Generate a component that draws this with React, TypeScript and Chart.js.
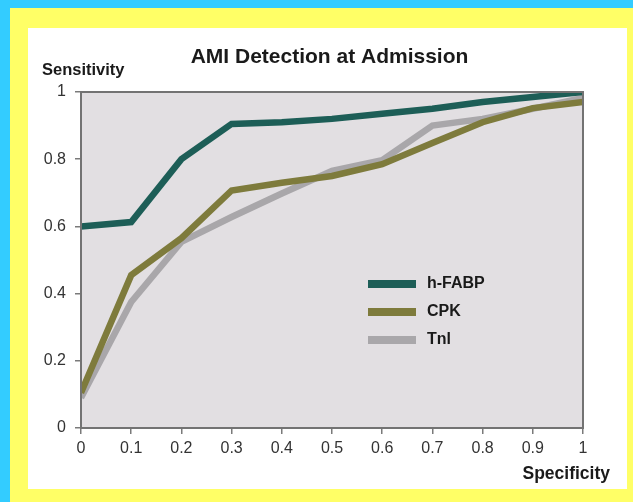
import React, { useEffect, useRef } from "react";
import { Chart, registerables } from "chart.js";

Chart.register(...registerables);

const specificity = [0, 0.1, 0.2, 0.3, 0.4, 0.5, 0.6, 0.7, 0.8, 0.9, 1];
const hFABP = [0.6, 0.613, 0.8, 0.905, 0.91, 0.92, 0.935, 0.95, 0.97, 0.985, 1.0];
const cpk = [0.105, 0.455, 0.565, 0.707, 0.73, 0.75, 0.785, 0.848, 0.91, 0.952, 0.97];
const tnl = [0.09, 0.375, 0.554, 0.628, 0.698, 0.765, 0.797, 0.9, 0.92, 0.95, 0.982];
const seriesNames = ["h-FABP", "CPK", "Tnl"];
const seriesColors = ["#1d5e57", "#7e7b3c", "#a9a7aa"];
const xTickLabels = ["0", "0.1", "0.2", "0.3", "0.4", "0.5", "0.6", "0.7", "0.8", "0.9", "1"];
const yTickLabels = ["0", "0.2", "0.4", "0.6", "0.8", "1"];
const titleText = "AMI Detection at Admission";
const yAxisTitle = "Sensitivity";
const xAxisTitle = "Specificity";

const FONT = "'Liberation Sans', Arial, sans-serif";

export default function App() {
  const ref = useRef<HTMLCanvasElement | null>(null);
  useEffect(() => {
    if (!ref.current) return;
    const toPts = (vals: number[]) => specificity.map((x, i) => ({ x, y: vals[i] }));
    const all = [hFABP, cpk, tnl];
    const decor = {
      id: "decor",
      beforeDraw(chart: any) {
        const { ctx, chartArea: a } = chart;
        ctx.save();
        ctx.fillStyle = "#e2dfe2";
        ctx.fillRect(a.left, a.top, a.right - a.left, a.bottom - a.top);
        ctx.restore();
      },
      afterDatasetsDraw(chart: any) {
        const { ctx, chartArea: a } = chart;
        ctx.save();
        ctx.strokeStyle = "#737373";
        ctx.lineWidth = 2;
        ctx.strokeRect(a.left, a.top, a.right - a.left, a.bottom - a.top);
        // title
        ctx.fillStyle = "#1a1a1a";
        ctx.textBaseline = "middle";
        ctx.textAlign = "center";
        ctx.font = `bold 21px ${FONT}`;
        ctx.fillText(titleText, chart.width / 2 + 2, 29);
        ctx.font = `bold 16.5px ${FONT}`;
        ctx.textAlign = "left";
        ctx.fillText(yAxisTitle, 14, 42);
        ctx.font = `bold 17.5px ${FONT}`;
        ctx.textAlign = "right";
        ctx.fillText(xAxisTitle, 582, 446);
        // legend
        const lx = 340, ly = 256;
        chart.data.datasets.forEach((ds: any, i: number) => {
          const y = ly + i * 28;
          ctx.fillStyle = ds.borderColor;
          ctx.fillRect(lx, y - 4, 48, 8);
          ctx.fillStyle = "#1a1a1a";
          ctx.textAlign = "left";
          ctx.font = `bold 16px ${FONT}`;
          ctx.fillText(ds.label, lx + 59, y);
        });
        ctx.restore();
      },
    };
    const chart = new Chart(ref.current, {
      type: "line",
      data: {
        datasets: seriesNames.map((name, i) => ({
          label: name,
          data: toPts(all[i]),
          borderColor: seriesColors[i],
          backgroundColor: seriesColors[i],
          borderWidth: 6.5,
          pointRadius: 0,
          tension: 0,
          fill: false,
        })),
      },
      options: {
        responsive: false,
        animation: false,
        layout: { padding: { left: 0, right: 44, top: 64, bottom: 0 } },
        plugins: { legend: { display: false }, title: { display: false }, tooltip: { enabled: false } },
        scales: {
          x: {
            type: "linear",
            min: 0,
            max: 1,
            afterFit(s: any) { s.height = 61; },
            afterBuildTicks(s: any) { s.ticks = specificity.map((v) => ({ value: v })); },
            ticks: {
              padding: 5,
              color: "#333",
              font: { family: FONT, size: 16 },
              maxRotation: 0,
              autoSkip: false,
              callback: (_v: any, i: number) => xTickLabels[i],
            },
            grid: { drawOnChartArea: false, drawTicks: true, tickLength: 6, color: "#7a7a7a", lineWidth: 1.5 },
            border: { display: false },
          },
          y: {
            type: "linear",
            min: 0,
            max: 1,
            afterFit(s: any) { s.width = 53; },
            afterBuildTicks(s: any) { s.ticks = yTickLabels.map((t) => ({ value: parseFloat(t) })); },
            ticks: {
              padding: 9,
              color: "#333",
              font: { family: FONT, size: 16 },
              autoSkip: false,
              callback: (_v: any, i: number) => yTickLabels[i],
            },
            grid: { drawOnChartArea: false, drawTicks: true, tickLength: 6, color: "#7a7a7a", lineWidth: 1.5 },
            border: { display: false },
          },
        },
      },
      plugins: [decor],
    } as any);
    return () => chart.destroy();
  }, []);

  return (
    <div style={{ position: "fixed", left: 0, top: 0, width: 633, height: 502, background: "#33ccff", overflow: "hidden" }}>
      <div style={{ position: "absolute", left: 10, top: 8, width: 623, height: 494, background: "#ffff66" }} />
      <div style={{ position: "absolute", left: 28, top: 28, width: 599, height: 461, background: "#ffffff" }}>
        <canvas ref={ref} width={599} height={461} style={{ display: "block", width: 599, height: 461 }} />
      </div>
    </div>
  );
}
